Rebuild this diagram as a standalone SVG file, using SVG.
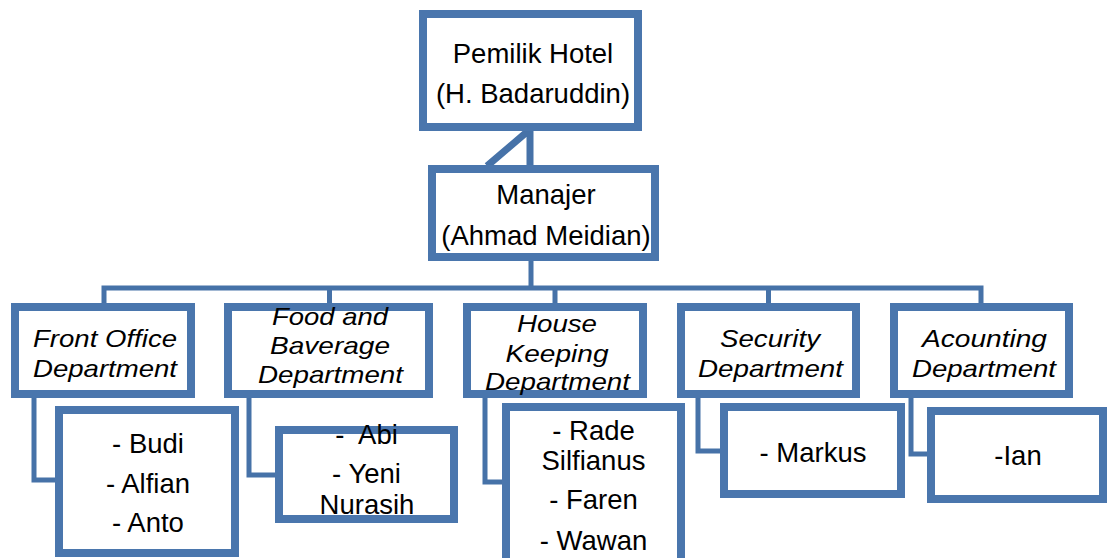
<svg xmlns="http://www.w3.org/2000/svg" width="1109" height="558" viewBox="0 0 1109 558">
<style>
.box{fill:#fff;stroke:#4a76ad;stroke-width:8}
.con{fill:none;stroke:#4672a8;stroke-width:5}
.t{font-family:"Liberation Sans",Arial,sans-serif;font-size:27.5px;fill:#000;text-anchor:middle}
.d{font-family:"Liberation Sans",Arial,sans-serif;font-size:24px;font-style:italic;fill:#000;text-anchor:middle}
</style>
<rect width="1109" height="558" fill="#fff"/>
<g id="connectors">
<path class="con" style="stroke-width:7" d="M530 131V166M528 131L487 166"/>
<path class="con" d="M531 261V288M104 303V288H981V303M329.5 288V303M555 288V303M768.5 288V303"/>
<path class="con" d="M34 398V480H59M249 398V475H279M485 398V482H506M698 398V451H724M911 398V454H931"/>
</g>
<g id="owner">
<rect class="box" x="423" y="14" width="215" height="113"/>
<text class="t" x="533" y="63">Pemilik Hotel</text>
<text class="t" x="533" y="103">(H. Badaruddin)</text>
</g>
<g id="manager">
<rect class="box" x="432" y="169" width="223" height="88"/>
<text class="t" x="546" y="204">Manajer</text>
<text class="t" x="546" y="245">(Ahmad Meidian)</text>
</g>
<g id="front-office">
<rect class="box" x="15" y="307" width="176" height="87"/>
<text class="d" x="105" y="347" textLength="144" lengthAdjust="spacingAndGlyphs">Front Office</text>
<text class="d" x="105" y="377" textLength="144" lengthAdjust="spacingAndGlyphs">Department</text>
</g>
<g id="food-beverage">
<rect class="box" x="228" y="307" width="201" height="87"/>
<text class="d" x="330" y="325" textLength="116" lengthAdjust="spacingAndGlyphs">Food and</text>
<text class="d" x="330" y="354" textLength="120" lengthAdjust="spacingAndGlyphs">Baverage</text>
<text class="d" x="330.5" y="383" textLength="145" lengthAdjust="spacingAndGlyphs">Department</text>
</g>
<g id="housekeeping">
<rect class="box" x="467" y="307" width="176" height="87"/>
<text class="d" x="557" y="332" textLength="80" lengthAdjust="spacingAndGlyphs">House</text>
<text class="d" x="557" y="362" textLength="103" lengthAdjust="spacingAndGlyphs">Keeping</text>
<text class="d" x="557.5" y="390" textLength="145" lengthAdjust="spacingAndGlyphs">Department</text>
</g>
<g id="security">
<rect class="box" x="681" y="307" width="175" height="87"/>
<text class="d" x="770" y="347" textLength="100" lengthAdjust="spacingAndGlyphs">Security</text>
<text class="d" x="770.5" y="377" textLength="145" lengthAdjust="spacingAndGlyphs">Department</text>
</g>
<g id="accounting">
<rect class="box" x="894" y="307" width="175" height="87"/>
<text class="d" x="984.5" y="347" textLength="125" lengthAdjust="spacingAndGlyphs">Acounting</text>
<text class="d" x="984" y="377" textLength="144" lengthAdjust="spacingAndGlyphs">Department</text>
</g>
<g id="front-office-staff">
<rect class="box" x="59" y="410" width="176" height="143"/>
<text class="t" x="148" y="453">- Budi</text>
<text class="t" x="148" y="493">- Alfian</text>
<text class="t" x="148" y="532">- Anto</text>
</g>
<g id="food-beverage-staff">
<rect class="box" x="279" y="430" width="175" height="89"/>
<text class="t" x="366.5" y="444" xml:space="preserve">-  Abi</text>
<text class="t" x="366.5" y="483">- Yeni</text>
<text class="t" x="367" y="514">Nurasih</text>
</g>
<g id="housekeeping-staff">
<rect class="box" x="506" y="407" width="175" height="165"/>
<text class="t" x="593.5" y="440">- Rade</text>
<text class="t" x="593.5" y="470">Silfianus</text>
<text class="t" x="593.5" y="509">- Faren</text>
<text class="t" x="593.5" y="550">- Wawan</text>
</g>
<g id="security-staff">
<rect class="box" x="724" y="407" width="177" height="87"/>
<text class="t" x="813" y="462">- Markus</text>
</g>
<g id="accounting-staff">
<rect class="box" x="931" y="411" width="172" height="88"/>
<text class="t" x="1018" y="465">-Ian</text>
</g>
</svg>
